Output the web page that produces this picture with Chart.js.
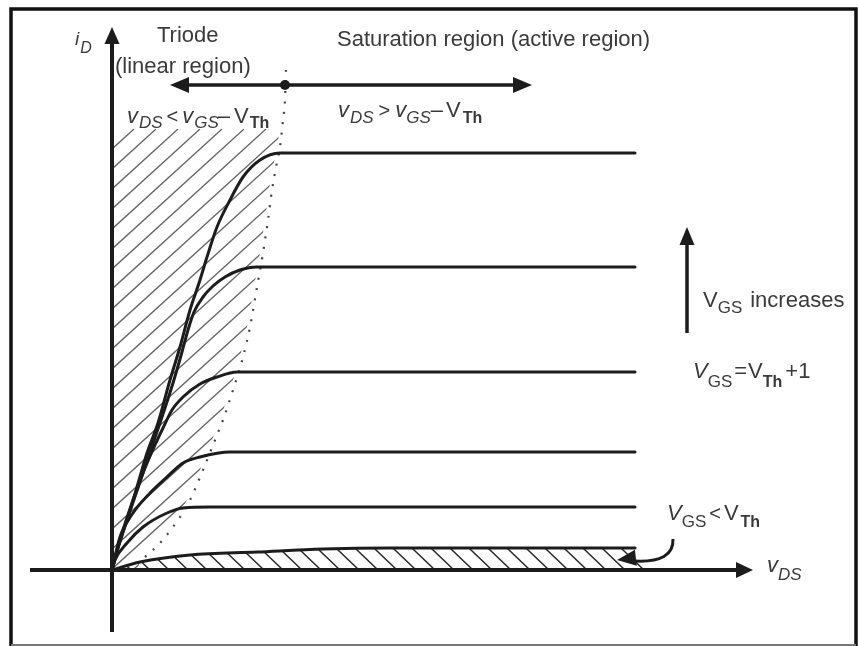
<!DOCTYPE html>
<html>
<head>
<meta charset="utf-8">
<script src="https://cdn.jsdelivr.net/npm/chart.js@4.4.1/dist/chart.umd.min.js"></script>
<style>
  html, body { margin: 0; padding: 0; background: #fff; }
  canvas { display: block; }
</style>
</head>
<body>
<canvas id="c" width="859" height="646"></canvas>
<script>
// MOSFET output characteristics: drain current iD (mA) against vDS (V).
// Each curve is a list of [vDS, iD] points for one gate voltage.
const curveVgs5 = [[0,0],[0.12,0.46],[0.30,1.00],[0.50,1.66],[0.70,2.34],[0.92,2.94],[1.16,3.80],[1.36,4.46],[1.56,5.20],[1.76,5.80],[1.90,6.26],[2.10,6.86],[2.36,7.40],[2.62,7.86],[2.96,8.20],[3.36,8.34],[10.46,8.34]];
const curveVgs4 = [[0,0],[0.14,0.50],[0.32,1.06],[0.54,1.70],[0.76,2.36],[0.98,3.00],[1.22,3.74],[1.40,4.36],[1.52,4.80],[1.64,5.16],[1.82,5.46],[2.02,5.68],[2.26,5.86],[2.56,6.00],[2.90,6.06],[10.46,6.06]];
const curveVgs3 = [[0,0],[0.10,0.40],[0.24,0.86],[0.42,1.40],[0.62,1.94],[0.86,2.50],[1.02,2.84],[1.20,3.20],[1.42,3.46],[1.76,3.72],[2.10,3.86],[2.50,3.96],[10.46,3.96]];
const curveVgs2 = [[0,0],[0.16,0.66],[0.42,1.14],[0.76,1.54],[1.10,1.86],[1.42,2.14],[1.76,2.26],[2.36,2.36],[10.46,2.36]];
const curveVgs1 = [[0,0],[0.06,0.20],[0.30,0.54],[0.62,0.86],[1.10,1.14],[1.42,1.24],[1.96,1.26],[10.46,1.26]];
const curveSubThreshold = [[0,0],[0.56,0.16],[1.56,0.30],[2.90,0.36],[4.22,0.42],[5.56,0.44],[10.46,0.44]];
// Boundary vDS = vGS - VTh between the triode and saturation regions
const triodeEdge = [[0.66,0.26],[0.96,0.54],[1.36,1.06],[1.56,1.40],[1.82,2.00],[2.06,2.60],[2.22,3.00],[2.42,3.60],[2.62,4.26],[2.76,4.86],[2.90,5.66],[3.02,6.34],[3.12,7.00],[3.20,7.60],[3.28,8.06],[3.36,8.46],[3.42,9.00],[3.46,9.40],[3.48,10.00]];
const curveLabels = ['VGS = VTh+5','VGS = VTh+4','VGS = VTh+3','VGS = VTh+2','VGS = VTh+1','VGS < VTh'];

const INK = '#1c1c1c';
const TEXT = '#3a3a3a';
const FF = '"Liberation Sans", Arial, sans-serif';

const pts = arr => arr.map(([x, y]) => ({ x, y }));

function curveSet(label, arr) {
  return {
    label, data: pts(arr), showLine: true, pointRadius: 0,
    borderColor: INK, borderWidth: 3, cubicInterpolationMode: 'monotone',
    borderCapStyle: 'round', borderJoinStyle: 'round', fill: false
  };
}

const datasets = [
  curveSet(curveLabels[0], curveVgs5),
  curveSet(curveLabels[1], curveVgs4),
  curveSet(curveLabels[2], curveVgs3),
  curveSet(curveLabels[3], curveVgs2),
  curveSet(curveLabels[4], curveVgs1),
  curveSet(curveLabels[5], curveSubThreshold),
  {
    label: 'vDS = vGS - VTh', data: pts(triodeEdge), showLine: true, pointRadius: 0,
    borderColor: '#444', borderWidth: 2.2, borderDash: [2, 8.5], borderCapStyle: 'butt',
    cubicInterpolationMode: 'monotone', fill: false
  }
];

function hatch(ctx, poly, spacing, slope, up, color, width) {
  ctx.save();
  ctx.beginPath();
  poly.forEach((p, i) => i ? ctx.lineTo(p[0], p[1]) : ctx.moveTo(p[0], p[1]));
  ctx.closePath();
  ctx.clip();
  const xs = poly.map(p => p[0]), ys = poly.map(p => p[1]);
  const x0 = Math.min(...xs), x1 = Math.max(...xs), y0 = Math.min(...ys), y1 = Math.max(...ys);
  const h = y1 - y0;
  ctx.strokeStyle = color; ctx.lineWidth = width;
  ctx.beginPath();
  for (let c = x0 - h * slope - spacing; c < x1 + spacing; c += spacing) {
    if (up) { ctx.moveTo(c, y1); ctx.lineTo(c + h * slope, y0); }
    else { ctx.moveTo(c, y0); ctx.lineTo(c + h * slope, y1); }
  }
  ctx.stroke();
  ctx.restore();
}

function arrowHead(ctx, tx, ty, ang, len, half) {
  const c = Math.cos(ang), s = Math.sin(ang);
  ctx.beginPath();
  ctx.moveTo(tx, ty);
  ctx.lineTo(tx - len * c - half * s, ty - len * s + half * c);
  ctx.lineTo(tx - len * c + half * s, ty - len * s - half * c);
  ctx.closePath();
  ctx.fill();
}

function rich(ctx, x, y, segs) {
  let cx = x;
  for (const s of segs) {
    ctx.font = s.f + ' ' + FF;
    cx += s.g || 0;
    ctx.fillText(s.t, cx, y + (s.dy || 0));
    cx += ctx.measureText(s.t).width;
  }
}

const diagram = {
  id: 'diagram',
  beforeDraw(chart) {
    const ctx = chart.ctx;
    ctx.save();
    ctx.fillStyle = '#fff';
    ctx.fillRect(0, 0, chart.width, chart.height);
    ctx.restore();
  },
  beforeDatasetsDraw(chart) {
    const ctx = chart.ctx, sx = chart.scales.x, sy = chart.scales.y;
    const P = (x, y) => [sx.getPixelForValue(x), sy.getPixelForValue(y)];
    // triode region hatching, bounded by the vertical axis and the dotted edge
    const topY = 8.82;
    const poly = [P(0, 0), P(0, topY), [P(3.40, topY)[0] - 2, P(0, topY)[1]]];
    for (let i = triodeEdge.length - 1; i >= 0; i--) {
      const p = P(triodeEdge[i][0], triodeEdge[i][1]);
      if (triodeEdge[i][1] <= topY) poly.push([p[0] - 3, p[1]]);
    }
    poly.push(P(0.5, 0));
    hatch(ctx, poly, 22, 1.1, true, '#666', 1.3);
    // cut-off region hatching under the sub-threshold curve
    const poly2 = curveSubThreshold.map(([x, y]) => P(x, y));
    poly2.push(P(10.9, 0));
    hatch(ctx, poly2, 19, 1.05, false, '#2a2a2a', 1.5);
  },
  afterDatasetsDraw(chart) {
    const ctx = chart.ctx, sx = chart.scales.x, sy = chart.scales.y;
    const P = (x, y) => [sx.getPixelForValue(x), sy.getPixelForValue(y)];
    ctx.save();
    ctx.fillStyle = INK; ctx.strokeStyle = INK;

    // axes with arrow heads
    ctx.lineWidth = 4; ctx.lineCap = 'butt';
    let a = P(0, -1.24), b = P(0, 10.86);
    ctx.beginPath(); ctx.moveTo(a[0], a[1]); ctx.lineTo(b[0], b[1] + 12); ctx.stroke();
    arrowHead(ctx, b[0], b[1], -Math.PI / 2, 17, 7.5);
    a = P(-1.64, 0); b = P(12.82, 0);
    ctx.beginPath(); ctx.moveTo(a[0], a[1]); ctx.lineTo(b[0] - 12, b[1]); ctx.stroke();
    arrowHead(ctx, b[0], b[1], 0, 17, 8);

    // double arrow separating the regions
    a = P(1.16, 9.70); b = P(8.40, 9.70);
    ctx.lineWidth = 3.5;
    ctx.beginPath(); ctx.moveTo(a[0] + 12, a[1]); ctx.lineTo(b[0] - 12, b[1]); ctx.stroke();
    arrowHead(ctx, a[0], a[1], Math.PI, 19, 8);
    arrowHead(ctx, b[0], b[1], 0, 19, 8);
    const d = P(3.46, 9.70);
    ctx.beginPath(); ctx.arc(d[0], d[1], 5, 0, Math.PI * 2); ctx.fill();

    // arrow for rising gate voltage
    a = P(11.50, 4.74); b = P(11.50, 6.86);
    ctx.lineWidth = 3.5;
    ctx.beginPath(); ctx.moveTo(a[0], a[1]); ctx.lineTo(b[0], b[1] + 12); ctx.stroke();
    arrowHead(ctx, b[0], b[1], -Math.PI / 2, 18, 7.5);

    // curved pointer to the cut-off curve
    a = P(11.22, 0.62);
    const e = P(10.45, 0.18), tip = P(10.10, 0.20);
    ctx.lineWidth = 3;
    ctx.beginPath(); ctx.moveTo(a[0], a[1]);
    ctx.quadraticCurveTo(a[0] + 1, e[1] + 2, e[0], e[1]);
    ctx.stroke();
    arrowHead(ctx, tip[0], tip[1], Math.PI - 0.12, 19, 8);

    // labels
    ctx.fillStyle = TEXT;
    ctx.textBaseline = 'alphabetic';
    const N22 = 'normal 22px', I22 = 'italic 22px', N20 = 'normal 20px';
    const S17 = 'normal 17px', IS17 = 'italic 17px', B16 = 'bold 16px';
    let q = P(-0.74, 10.50);
    rich(ctx, q[0], q[1], [{ t: 'i', f: 'italic 19px' }, { t: 'D', f: 'italic 16px', dy: 8, g: 1 }]);
    q = P(0.90, 10.56);
    rich(ctx, q[0], q[1], [{ t: 'Triode', f: N22 }]);
    q = P(0.06, 9.94);
    rich(ctx, q[0], q[1], [{ t: '(linear region)', f: N22 }]);
    q = P(4.50, 10.48);
    rich(ctx, q[0], q[1], [{ t: 'Saturation region (active region)', f: N22 }]);
    q = P(0.30, 8.94);
    rich(ctx, q[0], q[1], [
      { t: 'v', f: I22 }, { t: 'DS', f: IS17, dy: 5, g: 1 }, { t: '<', f: N20, g: 4 },
      { t: 'v', f: I22, g: 4 }, { t: 'GS', f: IS17, dy: 5, g: 1 }, { t: '\u2013', f: N22, g: -1 },
      { t: 'V', f: N22, g: 4 }, { t: 'Th', f: B16, dy: 5, g: 1 }
    ]);
    q = P(4.52, 9.06);
    rich(ctx, q[0], q[1], [
      { t: 'v', f: I22 }, { t: 'DS', f: IS17, dy: 6, g: 1 }, { t: '>', f: N20, g: 5 },
      { t: 'v', f: I22, g: 5 }, { t: 'GS', f: IS17, dy: 6, g: 0 }, { t: '\u2013', f: N22, g: 0 },
      { t: 'V', f: N22, g: 3 }, { t: 'Th', f: B16, dy: 6, g: 2 }
    ]);
    q = P(11.82, 5.26);
    rich(ctx, q[0], q[1], [
      { t: 'V', f: N22 }, { t: 'GS', f: S17, dy: 6 }, { t: 'increases', f: N22, g: 8 }
    ]);
    q = P(11.62, 3.84);
    rich(ctx, q[0], q[1], [
      { t: 'V', f: I22 }, { t: 'GS', f: S17, dy: 9 }, { t: '=', f: N22, g: 2 },
      { t: 'V', f: N22, g: 1 }, { t: 'Th', f: B16, dy: 9 }, { t: '+1', f: N22, g: 3 }
    ]);
    q = P(11.10, 1.00);
    rich(ctx, q[0], q[1], [
      { t: 'V', f: I22 }, { t: 'GS', f: S17, dy: 7 }, { t: '<', f: N20, g: 3 },
      { t: 'V', f: N22, g: 3 }, { t: 'Th', f: B16, dy: 7, g: 2 }
    ]);
    q = P(13.10, -0.04);
    rich(ctx, q[0], q[1], [{ t: 'v', f: I22 }, { t: 'DS', f: IS17, dy: 8, g: 0 }]);

    // frame
    ctx.strokeStyle = '#111';
    ctx.lineWidth = 3.5;
    ctx.beginPath();
    ctx.moveTo(11, 646); ctx.lineTo(11, 9); ctx.lineTo(856, 9); ctx.lineTo(856, 646);
    ctx.stroke();
    ctx.strokeStyle = '#777'; ctx.lineWidth = 2;
    ctx.beginPath(); ctx.moveTo(11, 645); ctx.lineTo(856, 645); ctx.stroke();
    ctx.restore();
  }
};

new Chart(document.getElementById('c'), {
  type: 'scatter',
  data: { datasets },
  options: {
    responsive: false,
    animation: false,
    devicePixelRatio: 1,
    layout: { padding: 0 },
    plugins: { legend: { display: false }, tooltip: { enabled: false }, title: { display: false } },
    scales: {
      x: { type: 'linear', display: false, min: -2.24, max: 14.94 },
      y: { type: 'linear', display: false, min: -1.52, max: 11.4 }
    }
  },
  plugins: [diagram]
});
</script>
</body>
</html>
